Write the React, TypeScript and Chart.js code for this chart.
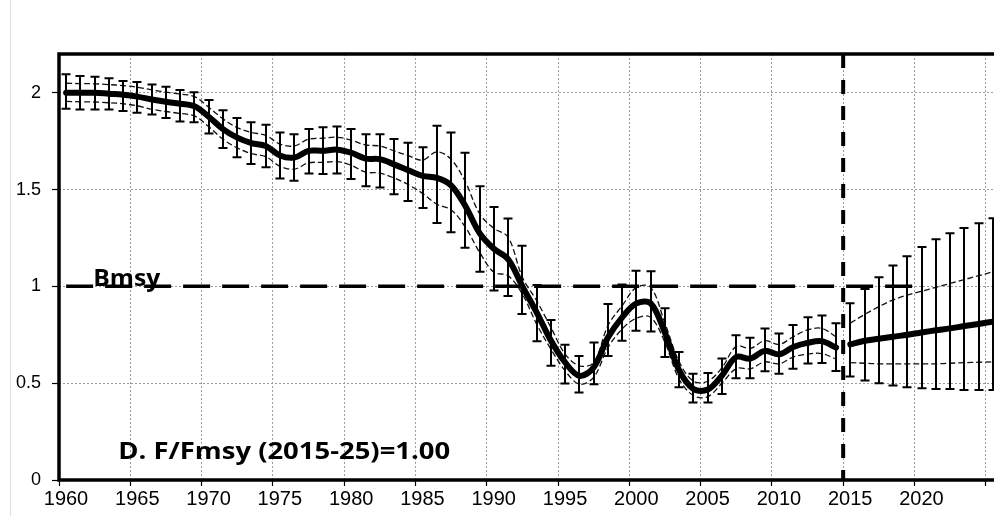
import { useEffect, useRef } from "react";
import { Chart, registerables } from "chart.js";

Chart.register(...registerables);

// ---------- data ----------
const histYears = [
  1960, 1961, 1962, 1963, 1964, 1965, 1966, 1967, 1968, 1969,
  1970, 1971, 1972, 1973, 1974, 1975, 1976, 1977, 1978, 1979,
  1980, 1981, 1982, 1983, 1984, 1985, 1986, 1987, 1988, 1989,
  1990, 1991, 1992, 1993, 1994, 1995, 1996, 1997, 1998, 1999,
  2000, 2001, 2002, 2003, 2004, 2005, 2006, 2007, 2008, 2009,
  2010, 2011, 2012, 2013, 2014,
];
const histMain = [
  2.0, 2.0, 2.0, 1.995, 1.99, 1.98, 1.965, 1.953, 1.943, 1.93,
  1.876, 1.812, 1.768, 1.74, 1.725, 1.676, 1.665, 1.7, 1.7, 1.706,
  1.69, 1.66, 1.657, 1.63, 1.6, 1.571, 1.56, 1.522, 1.415, 1.275,
  1.194, 1.14, 1.0, 0.866, 0.72, 0.607, 0.538, 0.581, 0.736, 0.84,
  0.912, 0.912, 0.76, 0.566, 0.47, 0.467, 0.54, 0.635, 0.627, 0.667,
  0.649, 0.687, 0.708, 0.717, 0.684,
];
const histErrHigh = [
  2.095, 2.087, 2.083, 2.075, 2.06, 2.056, 2.043, 2.031, 2.014, 2.003,
  1.962, 1.91, 1.87, 1.847, 1.835, 1.795, 1.786, 1.813, 1.822, 1.825,
  1.813, 1.785, 1.785, 1.761, 1.742, 1.718, 1.83, 1.794, 1.69, 1.517,
  1.41, 1.35, 1.21, 1.007, 0.826, 0.698, 0.641, 0.71, 0.909, 1.009,
  1.081, 1.078, 0.887, 0.661, 0.549, 0.552, 0.627, 0.748, 0.734, 0.783,
  0.757, 0.8, 0.84, 0.849, 0.809,
];
const histErrLow = [
  1.917, 1.913, 1.913, 1.913, 1.905, 1.896, 1.887, 1.87, 1.852, 1.847,
  1.79, 1.714, 1.667, 1.632, 1.615, 1.557, 1.545, 1.583, 1.58, 1.583,
  1.554, 1.517, 1.51, 1.476, 1.441, 1.405, 1.327, 1.28, 1.2, 1.076,
  0.978, 0.95, 0.857, 0.716, 0.59, 0.498, 0.452, 0.495, 0.641, 0.719,
  0.771, 0.767, 0.635, 0.479, 0.4, 0.4, 0.444, 0.526, 0.526, 0.561,
  0.549, 0.575, 0.601, 0.604, 0.5625,
];
const histUpper = [
  2.049, 2.047, 2.046, 2.042, 2.037, 2.028, 2.015, 2.003, 1.993, 1.98,
  1.925, 1.865, 1.82, 1.795, 1.78, 1.735, 1.725, 1.76, 1.765, 1.77,
  1.755, 1.73, 1.725, 1.7, 1.675, 1.652, 1.695, 1.656, 1.54, 1.375,
  1.3, 1.254, 1.047, 0.926, 0.788, 0.65, 0.59, 0.607, 0.797, 0.9,
  0.995, 0.995, 0.81, 0.61, 0.51, 0.51, 0.58, 0.69, 0.68, 0.72,
  0.7, 0.74, 0.775, 0.783, 0.74,
];
const histLower = [
  1.955, 1.953, 1.952, 1.948, 1.943, 1.932, 1.915, 1.903, 1.893, 1.88,
  1.825, 1.76, 1.715, 1.685, 1.67, 1.62, 1.605, 1.638, 1.64, 1.644,
  1.625, 1.59, 1.585, 1.56, 1.525, 1.48, 1.424, 1.396, 1.306, 1.176,
  1.073, 1.055, 0.96, 0.805, 0.676, 0.564, 0.495, 0.53, 0.684, 0.78,
  0.836, 0.84, 0.71, 0.52, 0.436, 0.43, 0.5, 0.575, 0.575, 0.61,
  0.6, 0.635, 0.65, 0.653, 0.625,
];

const projYears = [2015, 2016, 2017, 2018, 2019, 2020, 2021, 2022, 2023, 2024, 2025];
const projMain = [0.7, 0.719, 0.729, 0.74, 0.75, 0.762, 0.773, 0.783, 0.795, 0.806, 0.818];
const projErrHigh = [0.913, 0.986, 1.047, 1.108, 1.156, 1.203, 1.243, 1.274, 1.302, 1.326, 1.352];
const projErrLow = [0.535, 0.514, 0.5, 0.488, 0.479, 0.474, 0.47, 0.47, 0.465, 0.465, 0.465];
const projUpper = [0.81, 0.855, 0.895, 0.93, 0.955, 0.975, 0.995, 1.015, 1.035, 1.055, 1.075];
const projLower = [0.606, 0.603, 0.6, 0.6, 0.6, 0.6, 0.6, 0.603, 0.606, 0.608, 0.61];

const bmsyYears = [1960, 2020];
const bmsyValue = 1.0;
const projectionStartBoundary = 2014.5; // boundary between 2014 and 2015
const xGridYears = [1960, 1965, 1970, 1975, 1980, 1985, 1990, 1995, 2000, 2005, 2010, 2015, 2020, 2025];
const xLabelYears = [1960, 1965, 1970, 1975, 1980, 1985, 1990, 1995, 2000, 2005, 2010, 2015, 2020];
const yTicks = [0, 0.5, 1, 1.5, 2];
const yTickLabels = ["0", "0.5", "1", "1.5", "2"];
const yMax = 2.2;

const bmsyLabel = "Bmsy";
const scenarioLabel = "D. F/Fmsy (2015-25)=1.00";

// ---------- helpers ----------
const pts = (xs: number[], ys: number[]) => xs.map((x, i) => ({ x, y: ys[i] }));

const TICK_FONT = "Arial, 'Liberation Sans', sans-serif";
const BOLD_FONT = "'Open Sans', 'Noto Sans', sans-serif";

Chart.defaults.font.family = TICK_FONT;
Chart.defaults.color = "#000";

function drawFittedText(ctx: CanvasRenderingContext2D, text: string, x: number, y: number, size: number, targetW: number) {
  ctx.font = `bold ${size}px ${BOLD_FONT}`;
  const w = ctx.measureText(text).width;
  const sx = targetW / w;
  ctx.save();
  ctx.translate(x, y);
  ctx.scale(sx, 1);
  ctx.textAlign = "left";
  ctx.textBaseline = "alphabetic";
  ctx.fillStyle = "#000";
  ctx.fillText(text, 0, 0);
  ctx.restore();
}

const overlayPlugin = {
  id: "overlay",
  afterDatasetsDraw(chart: any) {
    const { ctx, chartArea, scales } = chart;
    const xs = scales.x;
    const ys = scales.y;
    ctx.save();
    // error bars
    ctx.strokeStyle = "#000";
    ctx.lineWidth = 2;
    const bars = (years: number[], lo: number[], hi: number[]) => {
      years.forEach((yr, i) => {
        const px = Math.round(xs.getPixelForValue(yr));
        const pl = ys.getPixelForValue(lo[i]);
        const ph = ys.getPixelForValue(hi[i]);
        ctx.beginPath();
        ctx.moveTo(px, pl);
        ctx.lineTo(px, ph);
        ctx.moveTo(px - 4.5, pl);
        ctx.lineTo(px + 4.5, pl);
        ctx.moveTo(px - 4.5, ph);
        ctx.lineTo(px + 4.5, ph);
        ctx.stroke();
      });
    };
    bars(histYears, histErrLow, histErrHigh);
    bars(projYears, projErrLow, projErrHigh);

    // frame: left, top, bottom
    ctx.strokeStyle = "#000";
    ctx.lineWidth = 3.5;
    ctx.beginPath();
    ctx.moveTo(chartArea.right + 20, chartArea.top);
    ctx.lineTo(chartArea.left, chartArea.top);
    ctx.lineTo(chartArea.left, chartArea.bottom);
    ctx.lineTo(chartArea.right + 20, chartArea.bottom);
    ctx.stroke();

    // labels
    drawFittedText(ctx, bmsyLabel, xs.getPixelForValue(1961.9), ys.getPixelForValue(bmsyValue) - 0.5, 24, 67);
    drawFittedText(ctx, scenarioLabel, xs.getPixelForValue(1963.65), ys.getPixelForValue(0.108), 23, 332);
    ctx.restore();
  },
};

export default function App() {
  const ref = useRef<HTMLCanvasElement | null>(null);

  useEffect(() => {
    if (!ref.current) return;
    const thin = {
      borderColor: "#111",
      borderWidth: 1.3,
      borderDash: [6, 3],
      pointRadius: 0,
      fill: false,
      tension: 0.35,
    };
    const thick = {
      borderColor: "#000",
      borderWidth: 6,
      pointRadius: 0,
      fill: false,
      tension: 0.35,
      borderCapStyle: "round" as const,
      borderJoinStyle: "round" as const,
    };
    const chart = new Chart(ref.current, {
      type: "line",
      data: {
        datasets: [
          { ...thick, data: pts(histYears, histMain) },
          { ...thick, data: pts(projYears, projMain) },
          { ...thin, data: pts(histYears, histUpper) },
          { ...thin, data: pts(histYears, histLower) },
          { ...thin, data: pts(projYears, projUpper) },
          { ...thin, data: pts(projYears, projLower) },
          {
            data: pts(bmsyYears, [bmsyValue, bmsyValue]),
            borderColor: "#000",
            borderWidth: 3.5,
            borderDash: [27, 12],
            pointRadius: 0,
            tension: 0,
          },
          {
            data: pts([projectionStartBoundary, projectionStartBoundary], [yMax, 0]),
            borderColor: "#000",
            borderWidth: 4,
            borderDash: [14, 12],
            pointRadius: 0,
            tension: 0,
          },
        ],
      },
      options: {
        animation: false,
        responsive: false,
        events: [],
        layout: { padding: { top: 54, right: 10, bottom: 0, left: 0 } },
        plugins: { legend: { display: false }, tooltip: { enabled: false } },
        scales: {
          x: {
            type: "linear",
            min: 1959.5,
            max: 2025.5,
            afterBuildTicks: (s: any) => {
              s.ticks = xGridYears.map((yr) => ({ value: yr - 0.5 }));
            },
            afterFit: (s: any) => {
              s.height = 36;
            },
            ticks: {
              autoSkip: false,
              maxRotation: 0,
              minRotation: 0,
              labelOffset: 7,
              padding: 1,
              color: "#000",
              font: { family: TICK_FONT, size: 20 },
              callback: (v: any) => {
                const yr = Number(v) + 0.5;
                return xLabelYears.includes(yr) ? String(yr) : "";
              },
            },
            grid: {
              color: "#9a9a9a",
              lineWidth: 1,
              tickColor: "#000",
              tickWidth: 1.2,
              tickLength: 6,
              tickBorderDash: [],
            },
            border: { display: false, dash: [2, 2] },
          },
          y: {
            min: 0,
            max: yMax,
            afterBuildTicks: (s: any) => {
              s.ticks = yTicks.map((v) => ({ value: v }));
            },
            afterFit: (s: any) => {
              s.width = 59;
            },
            ticks: {
              padding: 11,
              color: "#000",
              font: { family: TICK_FONT, size: 18 },
              callback: (v: any) => {
                const i = yTicks.indexOf(Number(v));
                return i >= 0 ? yTickLabels[i] : "";
              },
            },
            grid: {
              color: "#9a9a9a",
              lineWidth: 1,
              tickColor: "#000",
              tickWidth: 1.2,
              tickLength: 7,
              tickBorderDash: [],
            },
            border: { display: false, dash: [2, 2] },
          },
        },
      },
      plugins: [overlayPlugin],
    });
    return () => chart.destroy();
  }, []);

  return (
    <div
      style={{
        position: "fixed",
        left: 0,
        top: 0,
        width: 994,
        height: 516,
        overflow: "hidden",
        background: "#fff",
      }}
    >
      <div style={{ position: "absolute", left: 10, top: 0, width: 1, height: 516, background: "#dedede" }} />
      <canvas ref={ref} width={1010} height={516} style={{ position: "absolute", left: 0, top: 0, width: 1010, height: 516 }} />
    </div>
  );
}
